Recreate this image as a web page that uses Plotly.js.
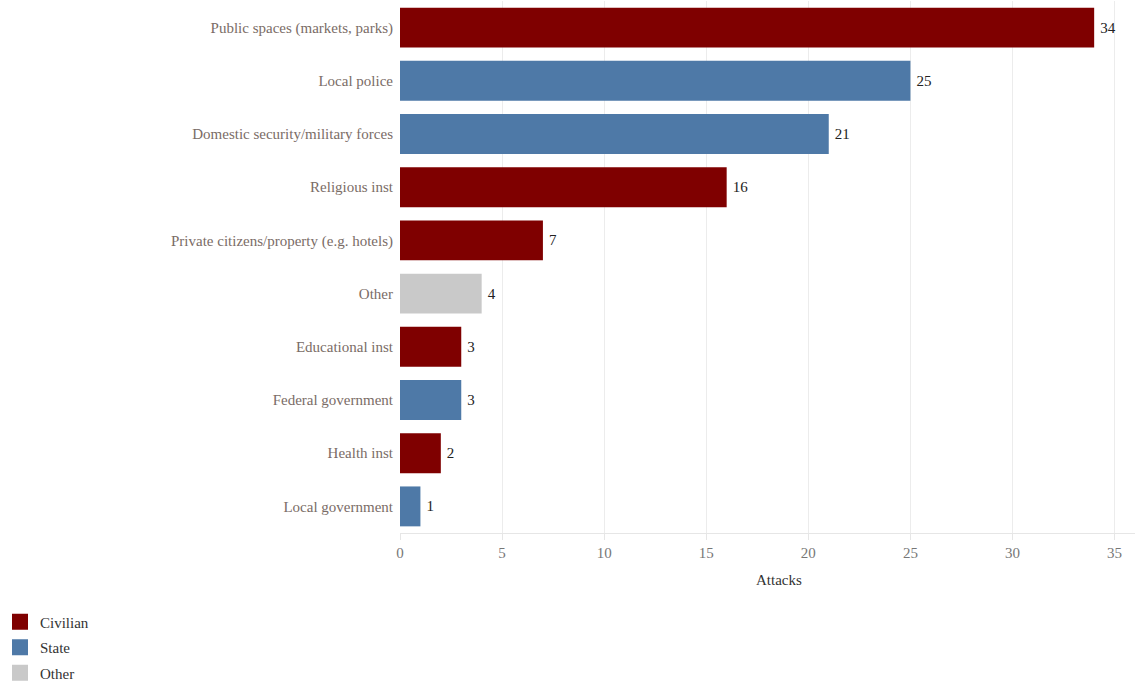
<!DOCTYPE html>
<html>
<head>
<meta charset="utf-8">
<script src="https://cdn.plot.ly/plotly-3.0.1.min.js"></script>
<style>html,body{margin:0;padding:0;background:#fff;}#chart{width:1143px;height:685px;}</style>
</head>
<body>
<div id="chart"></div>
<script>
const categories = ["Public spaces (markets, parks)", "Local police", "Domestic security/military forces", "Religious inst", "Private citizens/property (e.g. hotels)", "Other", "Educational inst", "Federal government", "Health inst", "Local government"];
const attacks = [34, 25, 21, 16, 7, 4, 3, 3, 2, 1];
const groups = ["Civilian", "State", "State", "Civilian", "Civilian", "Other", "Civilian", "State", "Civilian", "State"];
const groupNames = ["Civilian", "State", "Other"];
const groupColors = {"Civilian": "#7f0000", "State": "#4e79a7", "Other": "#c9c9c9"};
const xTicks = [0, 5, 10, 15, 20, 25, 30, 35];

const FONT = "'Liberation Serif', 'DejaVu Serif', serif";

const barTraces = groupNames.map(g => {
  const ys = [], xs = [];
  categories.forEach((c, i) => { if (groups[i] === g) { ys.push(c); xs.push(attacks[i]); } });
  return {
    type: "bar", orientation: "h", name: g, y: ys, x: xs,
    marker: {color: groupColors[g]}, showlegend: false, legendgroup: g,
    text: xs.map(v => "\u2009" + v), textposition: "outside", cliponaxis: false,
    textfont: {family: FONT, size: 15, color: "#222"},
    hoverinfo: "x+y"
  };
});

// legend entries (square swatches) for each group
const legendTraces = groupNames.map(g => ({
  type: "scatter", mode: "markers", name: g, x: [null], y: [null],
  legendgroup: g, showlegend: true,
  marker: {symbol: "square", size: 18, color: groupColors[g]},
  hoverinfo: "skip"
}));

const layout = {
  width: 1143, height: 685,
  margin: {l: 400, r: 8, t: 1, b: 152},
  barmode: "overlay", bargap: 0.25,
  paper_bgcolor: "#fff", plot_bgcolor: "#fff",
  font: {family: FONT, size: 15, color: "#333"},
  xaxis: {
    range: [0, 36], tickvals: xTicks, ticktext: xTicks.map(String),
    showgrid: true, gridcolor: "#ececec", gridwidth: 1,
    zeroline: false, showline: true, linecolor: "#e6e6e6", linewidth: 1,
    ticks: "outside", ticklen: 6, tickcolor: "#e6e6e6",
    tickfont: {family: FONT, size: 15, color: "#777"}
  },
  yaxis: {
    type: "category", categoryorder: "array", categoryarray: categories,
    autorange: "reversed", showgrid: false, zeroline: false, showline: false,
    ticks: "", ticklabelstandoff: 6,
    tickfont: {family: FONT, size: 15, color: "#7a6c66"}
  },
  legend: {
    xref: "container", yref: "container", x: 0, y: 0.116,
    xanchor: "left", yanchor: "top", orientation: "v",
    font: {family: FONT, size: 15, color: "#333"},
    tracegroupgap: 3, itemwidth: 30, itemsizing: "trace", traceorder: "grouped"
  },
  annotations: [{
    text: "Attacks", xref: "paper", yref: "paper", x: 0.516, y: -0.07,
    xanchor: "center", yanchor: "top", showarrow: false,
    font: {family: FONT, size: 15, color: "#333"}
  }]
};

Plotly.newPlot("chart", barTraces.concat(legendTraces), layout, {displayModeBar: false});
</script>
</body>
</html>
